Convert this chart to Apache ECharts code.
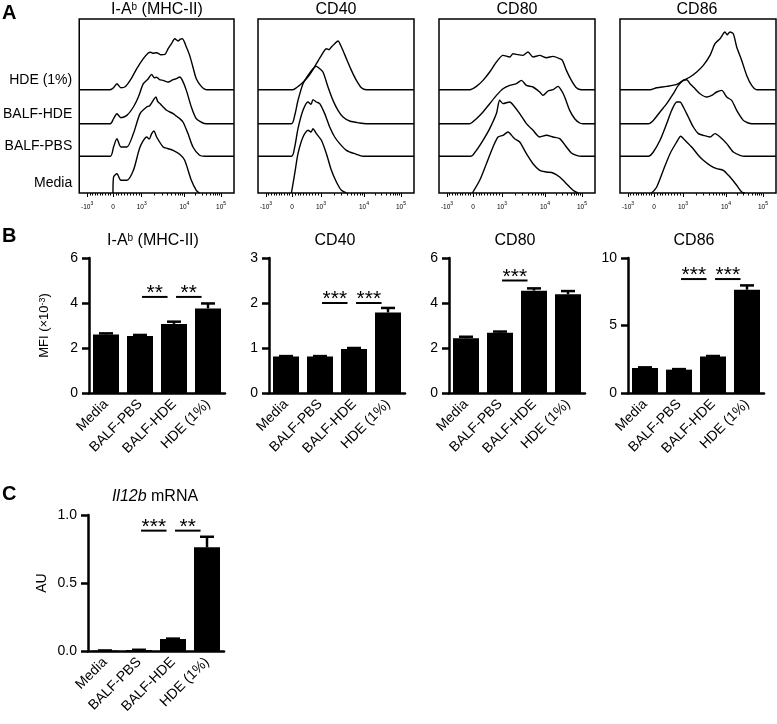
<!DOCTYPE html>
<html><head><meta charset="utf-8">
<script src="https://cdn.jsdelivr.net/npm/echarts@6/dist/echarts.min.js"></script>
<style>html,body{margin:0;padding:0;background:#fff}#c{width:777px;height:724px}</style>
</head><body><div id="c"></div><script>
// ---------- Panel A: flow histograms (display channel, normalised count) ----------
const rowLabels = ['HDE (1%)', 'BALF-HDE', 'BALF-PBS', 'Media'];
const histTitles = ['I-A{s|b} (MHC-II)', 'CD40', 'CD80', 'CD86'];
const histTickPos = [8, 34, 63, 106, 143];
const histTickLabels = ['-10^3', '0', '10^3', '10^4', '10^5'];

const iabHde = [[0,0],[31,0],[34.6,2],[38,6],[42,2],[46.3,3],[51.3,9.3],[58,21],[64.6,31],[69.6,36.7],[72,37.5],[74,36.5],[78,37],[82,35],[86.3,35.3],[89.6,41],[93,46],[96.3,51],[99.6,48.7],[102,50.5],[104,51],[108,42.7],[111.3,34.3],[114.6,22.7],[118,11],[123,3.3],[128,0],[156,0]];
const iabBalfHde = [[0,0],[31.3,0],[34.6,5],[38,10],[42,6],[48,8.3],[54.6,16.7],[59.6,26.7],[64.6,40],[69.6,45],[73,49.3],[75.5,46],[78,46.5],[81,44],[84.6,43.3],[89.6,41.7],[94.6,44],[98,45],[101.3,46.7],[104,43.3],[108,33.3],[113,16.7],[118,5],[124.6,0.7],[128,0],[156,0]];
const iabBalfPbs = [[0,0],[31.3,0],[34.6,9.3],[38,17.7],[42,9.3],[48,9.3],[54.6,22.7],[61.3,42.7],[68,49.3],[71,50.5],[74.6,56],[77.3,59.3],[79,55],[81.3,52.7],[88,46],[94.6,42.7],[98,40],[101.3,37.7],[104.6,34.3],[109.6,22.7],[114.6,9.3],[121.3,1],[126.3,0],[156,0]];
const iabMedia = [[34,0],[34.6,16],[38,19.3],[42,12.7],[48,12.7],[54.6,22.7],[61.3,46],[68,56],[70.5,54],[73,59.3],[75.3,62],[78,56],[84.6,46],[89,44.5],[94.6,42.7],[101.3,38.7],[106.3,32.7],[113,12.7],[118,2.7],[121.3,0]];

const cd40Hde = [[0,0],[35,0],[38.4,2],[43.4,6],[48.4,11],[53.4,17.7],[58.4,26],[63.4,34.3],[68.4,41],[71,40],[73.4,42.7],[76.7,46],[80,48.7],[83.4,42.7],[88.4,31],[93.4,19.3],[98.4,9.3],[103.4,2],[108.4,0],[156,0]];
const cd40BalfHde = [[0,0],[33.4,0],[36.7,8.3],[40,23.3],[45,40],[50,48.3],[55,55],[58.4,57.3],[61.7,55],[65,51.7],[70,36.7],[75,23.3],[80,13.3],[85,6.7],[91.7,2.7],[101.7,0.7],[108.4,0],[156,0]];
const cd40BalfPbs = [[0,0],[33.4,0],[36.7,9.3],[40,27.7],[45,46],[50,54.3],[53,52],[55,56.7],[58.4,54.3],[61.7,52.7],[66.7,42.7],[71.7,29.3],[76.7,19.3],[81.7,12.7],[88.4,6],[98.4,2],[105,0],[156,0]];
const cd40Media = [[33.4,0],[36.7,19.3],[40,39.3],[45,56],[50,62.7],[53,61],[55,64.3],[58.4,59.3],[63.4,52.7],[68.4,39.3],[73.4,22.7],[78.4,11],[83.4,2.7],[88.4,0]];

const cd80Hde = [[0,0],[30.7,0],[37.4,3.3],[44,9.3],[50.7,17.7],[57.4,27.7],[64,34.3],[70.7,32.7],[74,36],[77.4,35.3],[84,34.3],[89,37.7],[94,32.7],[100.7,34.3],[107.4,32],[114,33.3],[120.7,31],[123.4,29.3],[127.4,19.3],[132.4,9.3],[137.4,2],[142.4,0],[156,0]];
const cd80BalfHde = [[0,0],[30.7,0],[37.4,5],[44,11.7],[50.7,20],[57.4,28.3],[64,35],[70.7,38.3],[77.4,40],[82.4,43.3],[87.4,38.3],[94,36.7],[100.7,31.7],[104,28.3],[109,32.7],[114,34],[119,37.3],[122.4,33.3],[125.7,26.7],[130.7,13.3],[135.7,5],[140.7,0.7],[144,0],[156,0]];
const cd80BalfPbs = [[0,0],[32,0],[37.4,6],[44,16],[50.7,27.7],[57.4,42.7],[60.7,56],[64,52.7],[70.7,54.3],[75.7,49.3],[80.7,42.7],[87.4,32.7],[94,26],[100.7,19.3],[107.4,21],[114,19.3],[120.7,17.7],[127.4,9.3],[132.4,3.3],[137.4,1],[142.4,0],[156,0]];
const cd80Media = [[33.4,0],[40.7,12.7],[47.4,29.3],[54,46],[59,56],[64,57.7],[69,61],[74,56],[75.7,54.3],[80.7,51],[87.4,39.3],[94,29.3],[100.7,22.7],[107.4,21],[114,20],[120.7,16],[127.4,9.3],[134,2.7],[139,0]];

const cd86Hde = [[0,0],[30,0],[36.7,2],[46.7,3.3],[56.7,5.3],[63.3,9.3],[70,12.7],[76.7,17.7],[83.3,24.3],[90,34.3],[95,46],[100,51],[105,57.7],[107,55],[110,57.7],[113.3,56],[116.7,42.7],[121.7,29.3],[126.7,14.3],[131.7,4.3],[136.7,0],[156,0]];
const cd86BalfHde = [[0,0],[28.3,0],[33.3,3.3],[40,11.7],[46.7,20],[53.3,30],[58.3,38.3],[63.3,43.3],[66.7,44],[70,40],[75,35],[80,30],[86.7,26.7],[91.7,28.3],[96.7,31.7],[101.7,33.3],[106.7,26.7],[111.7,23.3],[116.7,13.3],[123.3,3.3],[128.3,0.7],[131.7,0],[156,0]];
const cd86BalfPbs = [[0,0],[28.3,0],[33.3,4.3],[40,16],[46.7,32.7],[51.7,46],[56.7,54.3],[60,54.3],[63.3,49.3],[68.3,39.3],[73.3,29.3],[78.3,22.7],[83.3,21],[90,19.3],[95,22.7],[100,19.3],[106.7,12.7],[113.3,4.3],[120,1],[125,0],[156,0]];
const cd86Media = [[31.7,0],[36.7,6],[43.3,22.7],[50,39.3],[56.7,51],[60.7,56.7],[65,52.7],[71.7,46],[78.3,37.7],[83.3,32.7],[90,27.7],[96.7,24.3],[103.3,22.7],[110,16],[116.7,7.7],[121.7,1],[125,0]];

// ---------- Panel B / C: bar charts ----------
const categories = ['Media', 'BALF-PBS', 'BALF-HDE', 'HDE (1%)'];
const iabMean = [2.6, 2.53, 3.07, 3.76];   const iabErr = [0.05, 0.05, 0.1, 0.22];
const cd40Mean = [0.81, 0.81, 0.98, 1.79]; const cd40Err = [0.01, 0.01, 0.02, 0.1];
const cd80Mean = [2.43, 2.68, 4.55, 4.39]; const cd80Err = [0.07, 0.05, 0.1, 0.14];
const cd86Mean = [1.85, 1.73, 2.71, 7.65]; const cd86Err = [0.05, 0.04, 0.03, 0.32];
const il12Mean = [0.003, 0.007, 0.088, 0.762]; const il12Err = [0.001, 0.002, 0.003, 0.078];
const iabSig = [[1, 2, 4.27], [2, 3, 4.27]];   const iabStars = ['**', '**'];
const cd40Sig = [[1, 2, 2.0], [2, 3, 2.0]];    const cd40Stars = ['***', '***'];
const cd80Sig = [[1, 2, 5.0]];                 const cd80Stars = ['***'];
const cd86Sig = [[1, 2, 8.44], [2, 3, 8.44]];  const cd86Stars = ['***', '***'];
const il12Sig = [[1, 2, 0.885], [2, 3, 0.885]]; const il12Stars = ['***', '**'];

// ---------- layout / style ----------
const FONT = 'Liberation Sans, Arial, sans-serif';
const histLefts = [78, 258, 439, 620];
const histW = 156, histTop = 19, histH = 174;
const rowOffsets = [103.3, 69.3, 36.7, 0];
const histSets = [
  [iabHde, iabBalfHde, iabBalfPbs, iabMedia],
  [cd40Hde, cd40BalfHde, cd40BalfPbs, cd40Media],
  [cd80Hde, cd80BalfHde, cd80BalfPbs, cd80Media],
  [cd86Hde, cd86BalfHde, cd86BalfPbs, cd86Media]
];

// minor tick positions: linear around zero, log within decades
const minorTicks = [];
for (let v = 100; v < 1000; v += 100) {
  minorTicks.push(histTickPos[1] + (histTickPos[2] - histTickPos[1]) * v / 1000);
  minorTicks.push(histTickPos[1] - (histTickPos[1] - histTickPos[0]) * v / 1000);
}
for (let d = 2; d < 4; d++) {
  for (let m = 2; m < 10; m++) minorTicks.push(histTickPos[d] + (histTickPos[d + 1] - histTickPos[d]) * Math.log10(m));
}

function tickRich(lbl) {
  const p = lbl.split('^');
  return p.length > 1 ? '{n|' + p[0] + '}{s|' + p[1] + '}' : '{n|' + p[0] + '}';
}

const grids = [], xAxes = [], yAxes = [], series = [];
histLefts.forEach((left, g) => {
  grids.push({left: left, top: histTop, width: histW, height: histH, show: true, borderColor: '#000', borderWidth: 1.5, containLabel: false});
  xAxes.push({type: 'value', gridIndex: g, position: 'bottom', min: 0, max: histW, axisLine: {show: false}, splitLine: {show: false},
    axisTick: {show: true, customValues: minorTicks, length: 2.5, lineStyle: {color: '#000', width: 1}}, axisLabel: {show: false}});
  xAxes.push({type: 'value', gridIndex: g, position: 'bottom', min: 0, max: histW, axisLine: {show: false}, splitLine: {show: false},
    axisTick: {show: true, customValues: histTickPos, length: 4, lineStyle: {color: '#000', width: 1}},
    axisLabel: {show: true, customValues: histTickPos, margin: 8,
      formatter: v => { const i = histTickPos.findIndex(p => Math.abs(p - v) < 0.01); return i < 0 ? '' : tickRich(histTickLabels[i]); },
      rich: {n: {fontSize: 6.5, fontFamily: FONT, color: '#000', lineHeight: 12}, s: {fontSize: 5, fontFamily: FONT, color: '#000', verticalAlign: 'top', lineHeight: 6}}}});
  yAxes.push({type: 'value', gridIndex: g, min: 0, max: histH, splitLine: {show: false}, axisLine: {show: false}, axisTick: {show: false},
    axisLabel: g === 0 ? {show: true, customValues: rowOffsets, margin: 7, verticalAlign: 'bottom', lineHeight: 20, fontSize: 14, fontFamily: FONT, color: '#000',
      formatter: v => { const i = rowOffsets.findIndex(p => Math.abs(p - v) < 0.01); return i < 0 ? '' : rowLabels[i]; }} : {show: false}});
  histSets[g].forEach((curve, r) => {
    series.push({type: 'line', xAxisIndex: 2 * g + 1, yAxisIndex: g, data: curve.map(p => [p[0], p[1] + rowOffsets[r]]),
      showSymbol: false, symbol: 'none', smooth: 0.25, lineStyle: {color: '#000', width: 1.4}, silent: true, z: 3});
  });
});

// bar panels
const barPanels = [
  {left: 89, top: 258, h: 135, max: 6, interval: 2, mean: iabMean, err: iabErr, sig: iabSig, stars: iabStars, name: 'MFI (\u00d710{s|-3})'},
  {left: 269, top: 258, h: 135, max: 3, interval: 1, mean: cd40Mean, err: cd40Err, sig: cd40Sig, stars: cd40Stars},
  {left: 449, top: 258, h: 135, max: 6, interval: 2, mean: cd80Mean, err: cd80Err, sig: cd80Sig, stars: cd80Stars},
  {left: 628, top: 258, h: 135, max: 10, interval: 5, mean: cd86Mean, err: cd86Err, sig: cd86Sig, stars: cd86Stars},
  {left: 88, top: 515, h: 136, max: 1, interval: 0.5, mean: il12Mean, err: il12Err, sig: il12Sig, stars: il12Stars, name: 'AU', dec: 1}
];
const AX = {color: '#000', width: 2.5};

function errRender(params, api) {
  const i = api.value(0), m = api.value(1), e = api.value(2);
  const top = api.coord([i, m + e]), base = api.coord([i, m]);
  const w = 7;
  return {type: 'group', children: [
    {type: 'line', shape: {x1: base[0], y1: base[1], x2: top[0], y2: top[1]}, style: {stroke: '#000', lineWidth: 2.5}},
    {type: 'line', shape: {x1: top[0] - w, y1: top[1], x2: top[0] + w, y2: top[1]}, style: {stroke: '#000', lineWidth: 2.5}}
  ]};
}
function makeSigRender(stars) {
  return function (params, api) {
    const a = api.value(0), b = api.value(1), y = api.value(2);
    const p1 = api.coord([a, y]), p2 = api.coord([b, y]);
    const band = api.size([1, 0])[0];
    const x1 = p1[0] + 0.06 * band, x2 = p2[0] - 0.19 * band;
    return {type: 'group', children: [
      {type: 'line', shape: {x1: x1, y1: p1[1], x2: x2, y2: p1[1]}, style: {stroke: '#000', lineWidth: 2}},
      {type: 'text', x: (x1 + x2) / 2, y: p1[1] + 7, style: {text: stars[params.dataIndex], fontSize: 21, fontFamily: FONT, fill: '#000', align: 'center', verticalAlign: 'bottom'}}
    ]};
  };
}

barPanels.forEach((bp, j) => {
  const g = 4 + j, xi = 8 + j, yi = 4 + j;
  grids.push({left: bp.left, top: bp.top, width: 136, height: bp.h, containLabel: false});
  xAxes.push({type: 'category', gridIndex: g, data: categories, axisLine: {lineStyle: AX},
    axisTick: {alignWithLabel: true, length: 7, lineStyle: AX},
    axisLabel: {rotate: 45, margin: 9, fontSize: 14, fontFamily: FONT, color: '#000', interval: 0}});
  yAxes.push({type: 'value', gridIndex: g, min: 0, max: bp.max, interval: bp.interval, splitLine: {show: false},
    axisLine: {show: true, lineStyle: AX}, axisTick: {show: true, length: 7, lineStyle: AX},
    axisLabel: {fontSize: 14, fontFamily: FONT, color: '#000', margin: 11, formatter: v => bp.dec ? v.toFixed(bp.dec) : String(v)},
    name: bp.name || '', nameLocation: 'middle', nameRotate: 90, nameGap: bp.dec ? 39 : 38,
    nameTextStyle: {fontSize: bp.dec ? 14 : 13, fontFamily: FONT, color: '#000',
      rich: {s: {fontSize: 9, fontFamily: FONT, color: '#000', verticalAlign: 'top'}}}});
  series.push({type: 'bar', xAxisIndex: xi, yAxisIndex: yi, data: bp.mean, barWidth: 26, itemStyle: {color: '#000'}, silent: true, z: 2});
  series.push({type: 'custom', xAxisIndex: xi, yAxisIndex: yi, data: bp.mean.map((m, i) => [i, m, bp.err[i]]),
    encode: {x: 0, y: 1}, renderItem: errRender, silent: true, z: 3});
  series.push({type: 'custom', xAxisIndex: xi, yAxisIndex: yi, data: bp.sig, encode: {x: [0, 1], y: 2},
    renderItem: makeSigRender(bp.stars), silent: true, z: 4});
});

const titleRich = {s: {fontSize: 10, fontFamily: FONT, fill: '#000', verticalAlign: 'top'}, i: {fontSize: 16, fontFamily: FONT, fill: '#000', fontStyle: 'italic'}};
function txt(text, x, y, size, bold) {
  return {type: 'text', x: x, y: y, z: 10, style: {text: text, fontSize: size, fontFamily: FONT, fontWeight: bold ? 'bold' : 'normal',
    fill: '#000', align: bold ? 'left' : 'center', verticalAlign: 'top', rich: titleRich}};
}
const graphics = [
  txt('A', 2, 3, 20, true), txt('B', 2, 226, 20, true), txt('C', 2, 484, 20, true),
  txt(histTitles[0], 157, 2, 16), txt(histTitles[1], 336, 2, 16), txt(histTitles[2], 517, 2, 16), txt(histTitles[3], 697, 2, 16),
  txt(histTitles[0], 153, 233, 16), txt(histTitles[1], 335, 233, 16), txt(histTitles[2], 515, 233, 16), txt(histTitles[3], 694, 233, 16),
  txt('{i|Il12b} mRNA', 155, 489, 16)
];

const chart = echarts.init(document.getElementById('c'), null, {renderer: 'canvas'});
chart.setOption({animation: false, backgroundColor: '#fff', grid: grids, xAxis: xAxes, yAxis: yAxes, series: series, graphic: graphics});
</script></body></html>
